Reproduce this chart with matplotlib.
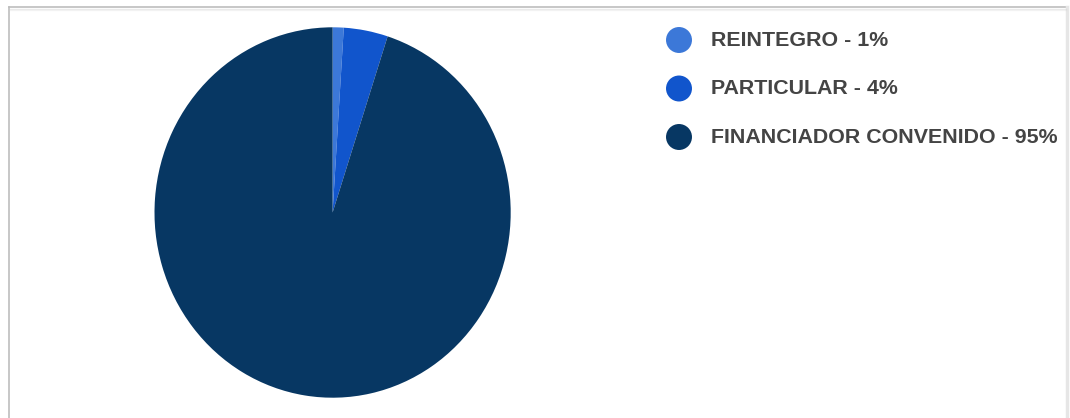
from matplotlib import pyplot as plt
from matplotlib.lines import Line2D

# participacion por tipo de financiador
categorias = ['REINTEGRO', 'PARTICULAR', 'FINANCIADOR CONVENIDO']
porcentajes = [1, 4, 95]
colores = ['#3c78d8', '#1155cc', '#073763']

W, H = 1070, 418
fig = plt.figure(figsize=(W / 100, H / 100), dpi=100)
fig.patch.set_facecolor('white')


def px(x, y):
    return x / W, 1 - y / H


# marco del panel (arriba, izquierda, derecha)
borde = '#bdbdbd'
for (x0, y0), (x1, y1), c, lw in [
    ((9, 418), (9, 7), borde, 1.2),
    ((9, 7), (1067, 7), borde, 1.2),
    ((1067, 7), (1067, 418), '#e6e6e6', 2.5),
]:
    a, b = px(x0, y0)
    c2, d = px(x1, y1)
    fig.add_artist(Line2D([a, c2], [b, d], color=c, lw=lw))
for i, a in enumerate([0.4, 0.2]):
    _, y = px(0, 8.5 + i)
    fig.add_artist(Line2D([px(10, 0)[0], px(1066, 0)[0]], [y, y], color='#d0d0d0', alpha=a, lw=1))

# torta
l, t, r, b = 154.5, 27.3, 510.7, 397.7
ax = fig.add_axes([l / W, (H - b) / H, (r - l) / W, (b - t) / H])
ax.pie(porcentajes, colors=colores, startangle=90, counterclock=False,
       wedgeprops=dict(linewidth=0))
ax.set_aspect('auto')
ax.set_xlim(-1, 1)
ax.set_ylim(-1, 1)
ax.axis('off')

# leyenda
lg = fig.add_axes([0, 0, 1, 1])
lg.set_xlim(0, W)
lg.set_ylim(H, 0)
lg.axis('off')
for i, (cat, p, col) in enumerate(zip(categorias, porcentajes, colores)):
    y = 40 + i * 48.5
    lg.scatter([679], [y], s=18.7 ** 2, color=col, edgecolors='none')
    lg.text(711, y + 0.5, f'{cat} - {p}%', fontsize=15.4, fontweight='bold',
            color='#444444', va='center', ha='left', family='Liberation Sans')

fig.savefig('out.png', dpi=100)
